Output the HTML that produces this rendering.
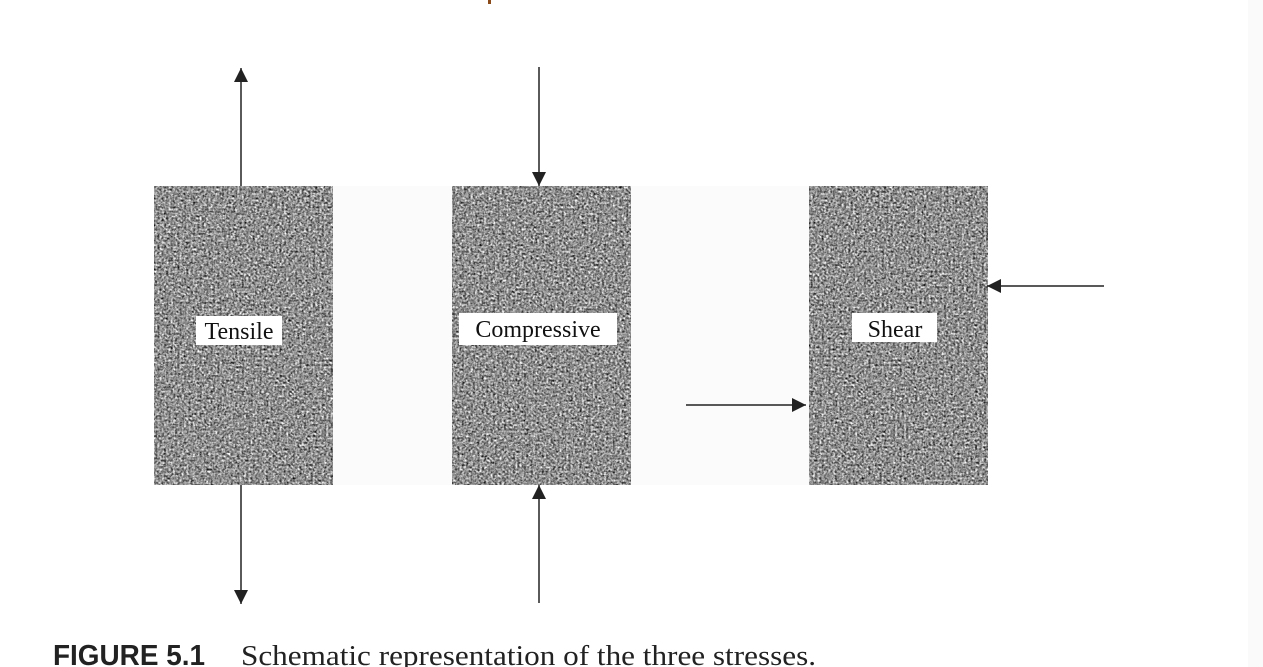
<!DOCTYPE html>
<html><head><meta charset="utf-8"><style>
html,body{margin:0;padding:0;background:#fff;width:1263px;height:667px;overflow:hidden}
</style></head><body>
<svg width="1263" height="667" viewBox="0 0 1263 667" xmlns="http://www.w3.org/2000/svg">
<defs>
<filter id="n" x="0" y="0" width="100%" height="100%" color-interpolation-filters="sRGB">
<feTurbulence type="fractalNoise" baseFrequency="0.45" numOctaves="2" seed="3" result="t"/>
<feColorMatrix type="matrix" in="t" values="0.33 0.33 0.33 0 0  0.33 0.33 0.33 0 0  0.33 0.33 0.33 0 0  0 0 0 0 1" result="g"/>
<feComponentTransfer in="g"><feFuncR type="linear" slope="2.2" intercept="-0.53"/><feFuncG type="linear" slope="2.2" intercept="-0.53"/><feFuncB type="linear" slope="2.2" intercept="-0.53"/></feComponentTransfer>
</filter>
<marker id="a" viewBox="0 0 14 14" refX="14" refY="7" markerWidth="14" markerHeight="14" markerUnits="userSpaceOnUse" orient="auto"><path d="M0,0 L14,7 L0,14 z" fill="#222"/></marker>
</defs>
<rect x="1248" y="0" width="15" height="667" fill="#fafafa"/>
<rect x="488" y="0" width="3" height="4" fill="#8a4a1a"/>
<rect x="333" y="186" width="476" height="299" fill="#fbfbfb"/>
<g>
<rect x="154" y="186" width="179" height="299" fill="#8f8f8f"/>
<rect x="154" y="186" width="179" height="299" filter="url(#n)"/>
<rect x="452" y="186" width="179" height="299" fill="#8f8f8f"/>
<rect x="452" y="186" width="179" height="299" filter="url(#n)"/>
<rect x="809" y="186" width="179" height="299" fill="#8f8f8f"/>
<rect x="809" y="186" width="179" height="299" filter="url(#n)"/>
</g>
<rect x="196" y="316" width="86" height="29" fill="#fff"/>
<rect x="459" y="313" width="158" height="32" fill="#fff"/>
<rect x="852" y="313" width="85" height="29" fill="#fff"/>
<g font-family="Liberation Serif, serif" font-size="24" fill="#111">
<text x="239" y="339" text-anchor="middle">Tensile</text>
<text x="538" y="337" text-anchor="middle">Compressive</text>
<text x="895" y="337" text-anchor="middle">Shear</text>
</g>
<g stroke="#222" stroke-width="1.5" fill="none">
<line x1="241" y1="186" x2="241" y2="68" marker-end="url(#a)"/>
<line x1="241" y1="485" x2="241" y2="604" marker-end="url(#a)"/>
<line x1="539" y1="67" x2="539" y2="186" marker-end="url(#a)"/>
<line x1="539" y1="603" x2="539" y2="485" marker-end="url(#a)"/>
<line x1="1104" y1="286" x2="987" y2="286" marker-end="url(#a)"/>
<line x1="686" y1="405" x2="806" y2="405" marker-end="url(#a)"/>
</g>
<text x="53" y="665" font-family="Liberation Sans, sans-serif" font-weight="bold" font-size="29" textLength="152" lengthAdjust="spacingAndGlyphs" fill="#222">FIGURE 5.1</text>
<text x="241" y="665" font-family="Liberation Serif, serif" font-size="28" textLength="575" lengthAdjust="spacingAndGlyphs" fill="#222">Schematic representation of the three stresses.</text>
</svg>
</body></html>
